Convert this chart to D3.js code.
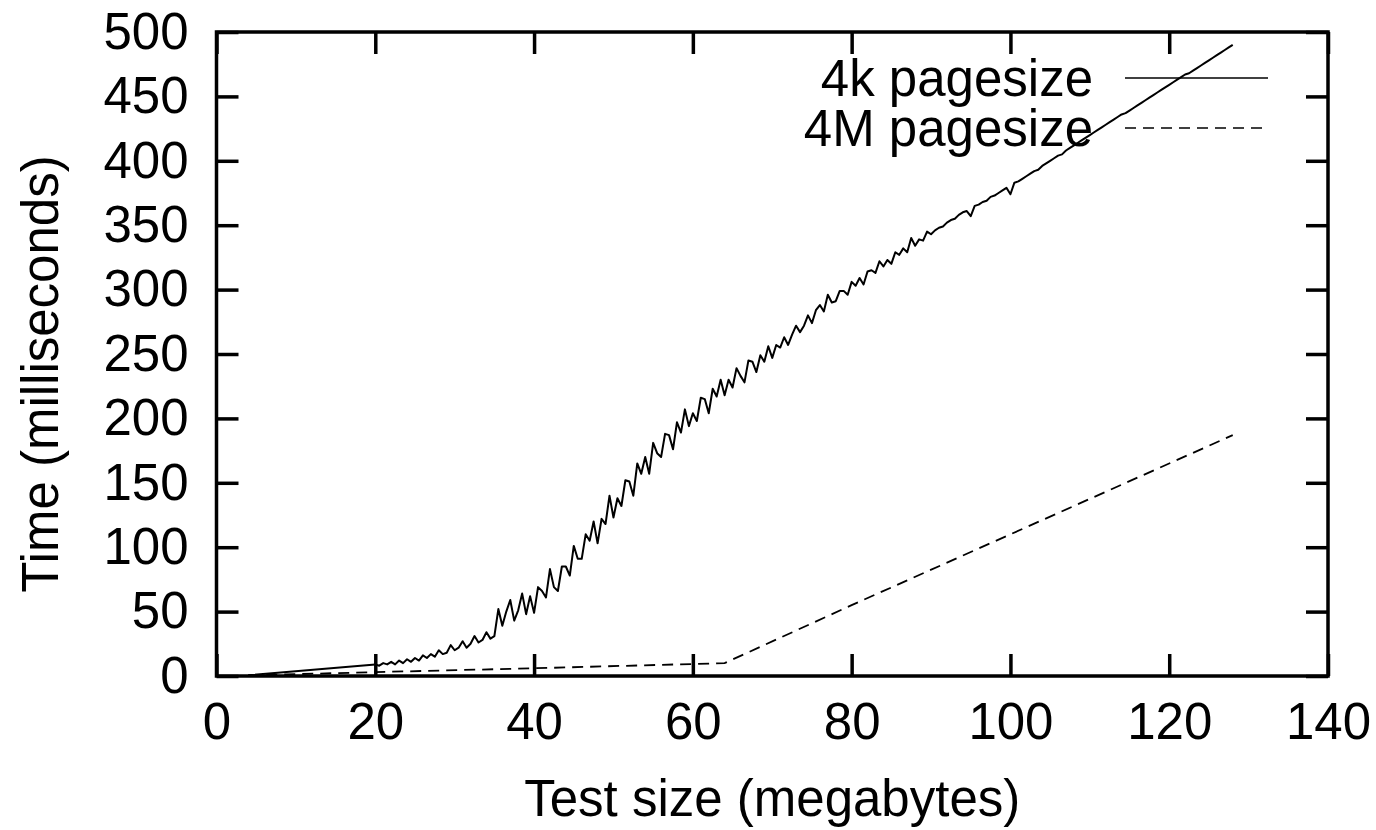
<!DOCTYPE html>
<html>
<head>
<meta charset="utf-8">
<script src="https://cdn.jsdelivr.net/npm/d3@7"></script>
<style>
  body { margin: 0; background: #fff; }
  text { font-family: "Liberation Sans", Arial, Helvetica, sans-serif; }
</style>
</head>
<body>
<script>
// 4k pagesize: one early point, then samples every 0.5 MB from 20 to 128
const earlySizes = [4]
const earlyTimes = [0.5]
const gridStart = 20, gridEnd = 128, gridStep = 0.5
const times4k = [
  9, 8, 10, 9, 11, 9, 12, 10, 13, 11, 14, 12, 16,
  14, 17, 15, 20, 17, 18, 24, 20, 22, 27, 22, 25, 31, 26, 28, 34, 29, 31,
  52, 39, 50, 59, 43, 51, 64, 48, 62, 49, 69, 66, 61, 83, 69, 66, 85, 85, 78, 101,
  91, 91, 110, 105, 120, 103, 122, 118, 140, 123, 138, 132, 152, 151, 140, 165, 157, 170, 157, 181,
  173, 170, 188, 187, 176, 197, 189, 207, 194, 204, 198, 216, 215, 204, 223, 217, 230, 218, 230, 224,
  239, 233, 228, 245, 244, 236, 249, 244, 256, 247,
  257, 255, 263, 257, 265, 272, 267, 272, 280, 274, 284, 288, 283, 296, 290, 291, 299, 299, 296, 306,
  303, 309, 304, 314, 315, 313, 322, 318, 323, 320, 329, 327, 332, 329, 340, 334, 339, 338, 345, 343,
  346, 348, 349, 352, 354, 355, 358, 360, 361, 357, 365, 366, 368, 369, 372, 373, 375, 377, 379, 374,
  383, 384, 386, 388, 390, 392, 393, 396, 398, 400, 402, 404, 405, 408, 410, 412, 414, 416, 418, 420,
  422, 424, 426, 428, 430, 432, 434, 436, 437, 439, 441, 443, 445, 447, 449, 451, 453, 455, 457, 459,
  461, 463, 465, 467, 468, 470, 472, 474, 476, 478, 480, 482, 484, 486, 488, 490
]

// 4M pagesize
const sizes4M = [4, 20, 40, 64, 80, 100, 128]
const times4M = [0.5, 3, 6, 10, 55, 110, 187]

const xTicks = [0, 20, 40, 60, 80, 100, 120, 140]
const yTicks = [0, 50, 100, 150, 200, 250, 300, 350, 400, 450, 500]
const seriesNames = ['4k pagesize', '4M pagesize']

const w = 1376
const h = 830
const margin = {top: 32, right: 48, bottom: 154, left: 216.5}
const fontSize = 51

const gridSizes = d3.range(gridStart, gridEnd + gridStep / 2, gridStep)
const data4k = earlySizes.map((s, i) => [s, earlyTimes[i]])
  .concat(gridSizes.map((s, i) => [s, times4k[i]]))
const data4M = sizes4M.map((s, i) => [s, times4M[i]])

const svg = d3.select('body')
  .append('svg')
  .attr('width', w)
  .attr('height', h)

const xScale = d3.scaleLinear()
  .domain([0, 140])
  .range([margin.left, w - margin.right])

const yScale = d3.scaleLinear()
  .domain([0, 500])
  .range([h - margin.bottom, margin.top])

const tickLen = 22

const xAxis = d3.axisBottom(xScale).tickValues(xTicks).tickSizeInner(-tickLen).tickSizeOuter(0).tickPadding(27)
const xAxisTop = d3.axisTop(xScale).tickValues(xTicks).tickSizeInner(-tickLen).tickSizeOuter(0).tickFormat('')
const yAxis = d3.axisLeft(yScale).tickValues(yTicks).tickSizeInner(-tickLen).tickSizeOuter(0).tickPadding(28)
const yAxisRight = d3.axisRight(yScale).tickValues(yTicks).tickSizeInner(-tickLen).tickSizeOuter(0).tickFormat('')

function styleAxis(g) {
  g.selectAll('line').attr('stroke', '#000').attr('stroke-width', 3.5)
  g.select('.domain').remove()
  g.selectAll('text')
    .attr('fill', '#000')
    .style('font-size', fontSize + 'px')
}

svg.append('g')
  .attr('transform', 'translate(0,' + (h - margin.bottom) + ')')
  .call(xAxis)
  .call(styleAxis)

svg.append('g')
  .attr('transform', 'translate(0,' + margin.top + ')')
  .call(xAxisTop)
  .call(styleAxis)

svg.append('g')
  .attr('transform', 'translate(' + margin.left + ',0)')
  .call(yAxis)
  .call(styleAxis)

svg.append('g')
  .attr('transform', 'translate(' + (w - margin.right) + ',0)')
  .call(yAxisRight)
  .call(styleAxis)

// frame
svg.append('rect')
  .attr('x', margin.left)
  .attr('y', margin.top)
  .attr('width', w - margin.left - margin.right)
  .attr('height', h - margin.top - margin.bottom)
  .attr('fill', 'none')
  .attr('stroke', '#000')
  .attr('stroke-width', 3.5)

const line = d3.line()
  .x(d => xScale(d[0]))
  .y(d => yScale(d[1]))

svg.append('path')
  .datum(data4k)
  .attr('d', line)
  .attr('fill', 'none')
  .attr('stroke', '#000')
  .attr('stroke-width', 2)
  .attr('stroke-linejoin', 'round')

svg.append('path')
  .datum(data4M)
  .attr('d', line)
  .attr('fill', 'none')
  .attr('stroke', '#000')
  .attr('stroke-width', 1.8)
  .attr('stroke-dasharray', '11,7')

// legend
const legend = svg.append('g')
const legendY = [78, 128]
seriesNames.forEach((name, i) => {
  legend.append('text')
    .attr('x', 1093)
    .attr('y', legendY[i])
    .attr('dy', '0.36em')
    .attr('text-anchor', 'end')
    .style('font-size', fontSize + 'px')
    .text(name)
  legend.append('line')
    .attr('x1', 1125)
    .attr('x2', 1268)
    .attr('y1', legendY[i])
    .attr('y2', legendY[i])
    .attr('stroke', '#000')
    .attr('stroke-width', 1.5)
    .attr('stroke-dasharray', i === 1 ? '11,7' : null)
})

// axis titles
svg.append('text')
  .attr('x', (margin.left + w - margin.right) / 2)
  .attr('y', 816)
  .attr('text-anchor', 'middle')
  .style('font-size', fontSize + 'px')
  .text('Test size (megabytes)')

svg.append('text')
  .attr('transform', 'translate(58,374) rotate(-90)')
  .attr('text-anchor', 'middle')
  .style('font-size', fontSize + 'px')
  .text('Time (milliseconds)')
</script>
</body>
</html>
